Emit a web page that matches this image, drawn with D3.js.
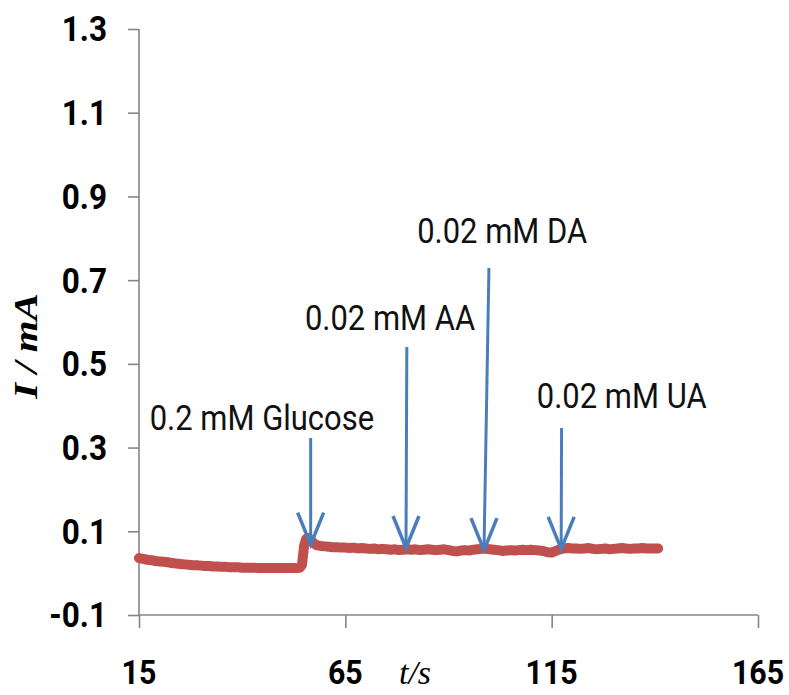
<!DOCTYPE html>
<html>
<head>
<meta charset="utf-8">
<script src="https://cdn.jsdelivr.net/npm/d3@7"></script>
<style>
  html, body { margin: 0; padding: 0; background: #ffffff; }
  svg { display: block; }
</style>
</head>
<body>
<svg id="chart" width="789" height="695"></svg>
<script>
// Amperometric response (I / mA vs t / s) with successive additions
const timeS = [
  15, 16, 17, 18, 19, 20, 21, 22, 23, 24, 25, 26, 27, 28, 29, 30, 31, 32, 33, 34,
  35, 36, 37, 38, 39, 40, 41, 42, 43, 44, 45, 46, 47, 48, 49, 50, 51, 52, 53, 54,
  54.5, 55, 55.5, 56, 56.5, 57, 57.5, 58, 59, 60, 61, 62, 63, 64, 65, 66, 67, 68,
  69, 70, 71, 72, 73, 74, 75, 76, 77, 78, 79, 80, 81, 82, 83, 84, 85, 86, 87, 88,
  89, 90, 91, 92, 93, 94, 95, 96, 97, 98, 99, 100, 101, 102, 103, 104, 105, 106,
  107, 108, 109, 110, 111, 112, 113, 114, 115, 116, 117, 118, 119, 120, 121, 122,
  123, 124, 125, 126, 127, 128, 129, 130, 131, 132, 133, 134, 135, 136, 137, 138,
  139, 140, 140.8
];
const currentMA = [
  0.036, 0.034, 0.032, 0.031, 0.029, 0.028, 0.027, 0.026, 0.024, 0.023, 0.022, 0.021, 0.020, 0.019, 0.019, 0.018, 0.017, 0.017, 0.016, 0.016,
  0.015, 0.015, 0.014, 0.014, 0.014, 0.013, 0.013, 0.013, 0.013, 0.012, 0.012, 0.012, 0.012, 0.012, 0.012, 0.012, 0.012, 0.012, 0.012, 0.013,
  0.020, 0.065, 0.082, 0.084, 0.080, 0.075, 0.070, 0.067, 0.065, 0.064, 0.063, 0.062, 0.062, 0.061, 0.061, 0.060, 0.061, 0.059,
  0.060, 0.059, 0.058, 0.059, 0.057, 0.058, 0.057, 0.056, 0.057, 0.055, 0.056, 0.057, 0.056, 0.057, 0.055, 0.056, 0.057, 0.056, 0.055, 0.056,
  0.057, 0.055, 0.053, 0.052, 0.054, 0.055, 0.054, 0.056, 0.057, 0.058, 0.058, 0.057, 0.056, 0.055, 0.053, 0.054, 0.055, 0.054,
  0.055, 0.056, 0.055, 0.056, 0.055, 0.054, 0.053, 0.050, 0.049, 0.053, 0.057, 0.059, 0.060, 0.059, 0.059, 0.058,
  0.059, 0.060, 0.058, 0.057, 0.058, 0.059, 0.057, 0.058, 0.059, 0.060, 0.059, 0.058, 0.059, 0.059, 0.060, 0.059,
  0.059, 0.059, 0.059
];

// Additions: label, time of the arrow (top / tip) and current levels of arrow top / tip
const additionLabels = ["0.2 mM Glucose", "0.02 mM AA", "0.02 mM DA", "0.02 mM UA"];
const arrowTopTime = [56.6, 79.9, 99.8, 117.4];
const arrowTipTime = [56.6, 79.7, 98.6, 117.3];
const arrowTopLevel = [0.323, 0.540, 0.729, 0.347];
const arrowTipLevel = [0.068, 0.060, 0.055, 0.058];

const xTicks = [15, 65, 115, 165];
const xTickLabels = ["15", "65", "115", "165"];
const yTicks = [-0.1, 0.1, 0.3, 0.5, 0.7, 0.9, 1.1, 1.3];
const yTickLabels = ["-0.1", "0.1", "0.3", "0.5", "0.7", "0.9", "1.1", "1.3"];

// ---- layout ----
const svg = d3.select("#chart");
const x = d3.scaleLinear().domain([15, 165]).range([139, 758]);
const y = d3.scaleLinear().domain([-0.1, 1.3]).range([615, 29]);

// where each addition label sits (left end of text baseline), in data units
const labelAnchor = [
  { t: 17.6, v: 0.342 },
  { t: 55.2, v: 0.581 },
  { t: 82.4, v: 0.789 },
  { t: 111.4, v: 0.394 }
];

const axisColor = "#868686";
const lineColor = "#c0504d";
const arrowColor = "#4a7ebb";

// axes
const yAxis = d3.axisLeft(y).tickValues(yTicks).tickSize(11).tickFormat("");
const xAxis = d3.axisBottom(x).tickValues(xTicks).tickSize(13).tickFormat("");

const gy = svg.append("g").attr("transform", `translate(${x(15)},0)`).call(yAxis);
const gx = svg.append("g").attr("transform", `translate(0,${y(-0.1)})`).call(xAxis);
[gx, gy].forEach(g => {
  g.select(".domain").attr("stroke", axisColor).attr("stroke-width", 1.6);
  g.selectAll(".tick line").attr("stroke", axisColor).attr("stroke-width", 1.6);
});
// keep domain as a straight line (no outer tick stubs)
gy.select(".domain").attr("d", `M0,${y(1.3)}V${y(-0.1)}`);
gx.select(".domain").attr("d", `M${x(15)},0H${x(165)}`);

// y tick labels
yTicks.forEach((v, i) => {
  svg.append("g")
    .attr("transform", `translate(${x(15) - 32},${y(v)})`)
    .append("text")
    .attr("transform", "scale(0.9,1)")
    .attr("text-anchor", "end")
    .attr("dy", "0.355em")
    .attr("font-family", "Roboto, 'Open Sans', sans-serif")
    .attr("font-weight", "bold")
    .attr("font-size", 35)
    .attr("fill", "#000")
    .text(yTickLabels[i]);
});

// x tick labels
xTicks.forEach((v, i) => {
  svg.append("g")
    .attr("transform", `translate(${x(v)},684)`)
    .append("text")
    .attr("transform", "scale(0.92,1)")
    .attr("text-anchor", "middle")
    .attr("font-family", "Roboto, 'Open Sans', sans-serif")
    .attr("font-weight", "bold")
    .attr("font-size", 33)
    .attr("fill", "#000")
    .text(xTickLabels[i]);
});

// axis titles
svg.append("text")
  .attr("x", 415).attr("y", 684)
  .attr("text-anchor", "middle")
  .attr("font-family", "'Liberation Serif', 'Times New Roman', serif")
  .attr("font-style", "italic")
  .attr("font-size", 34)
  .attr("fill", "#000")
  .text("t/s");

const yTitle = svg.append("g").attr("transform", "translate(37,346) rotate(-90)")
  .append("text")
  .attr("transform", "scale(1.2,1)")
  .attr("text-anchor", "middle")
  .attr("font-family", "'Liberation Serif', 'Times New Roman', serif")
  .attr("font-style", "italic")
  .attr("font-weight", "bold")
  .attr("font-size", 34)
  .attr("fill", "#000");
yTitle.append("tspan").text("I");
yTitle.append("tspan").attr("dx", 8).text("/");
yTitle.append("tspan").attr("dx", 8).text("mA");

// current trace
const trace = d3.line()
  .x((d, i) => x(timeS[i]))
  .y(d => y(d));
svg.append("path")
  .datum(currentMA)
  .attr("d", trace)
  .attr("fill", "none")
  .attr("stroke", lineColor)
  .attr("stroke-width", 10)
  .attr("stroke-linejoin", "round")
  .attr("stroke-linecap", "round");

// addition arrows
const wingDx = 13, wingDy = 32;
additionLabels.forEach((lab, i) => {
  const x0 = x(arrowTopTime[i]), y0 = y(arrowTopLevel[i]);
  const x1 = x(arrowTipTime[i]), y1 = y(arrowTipLevel[i]);
  const g = svg.append("g")
    .attr("stroke", arrowColor)
    .attr("stroke-width", 3)
    .attr("fill", "none")
    .attr("stroke-linecap", "butt");
  g.append("line").attr("x1", x0).attr("y1", y0).attr("x2", x1).attr("y2", y1);
  g.append("path")
    .attr("stroke-width", 3.5)
    .attr("stroke-linejoin", "miter")
    .attr("d", `M${x1 - wingDx},${y1 - wingDy}L${x1},${y1}L${x1 + wingDx},${y1 - wingDy}`);

  svg.append("g")
    .attr("transform", `translate(${x(labelAnchor[i].t)},${y(labelAnchor[i].v)})`)
    .append("text")
    .attr("transform", "scale(0.86,1)")
    .attr("font-family", "Roboto, 'Open Sans', sans-serif")
    .attr("font-size", 36)
    .attr("fill", "#111")
    .text(lab);
});
</script>
</body>
</html>
